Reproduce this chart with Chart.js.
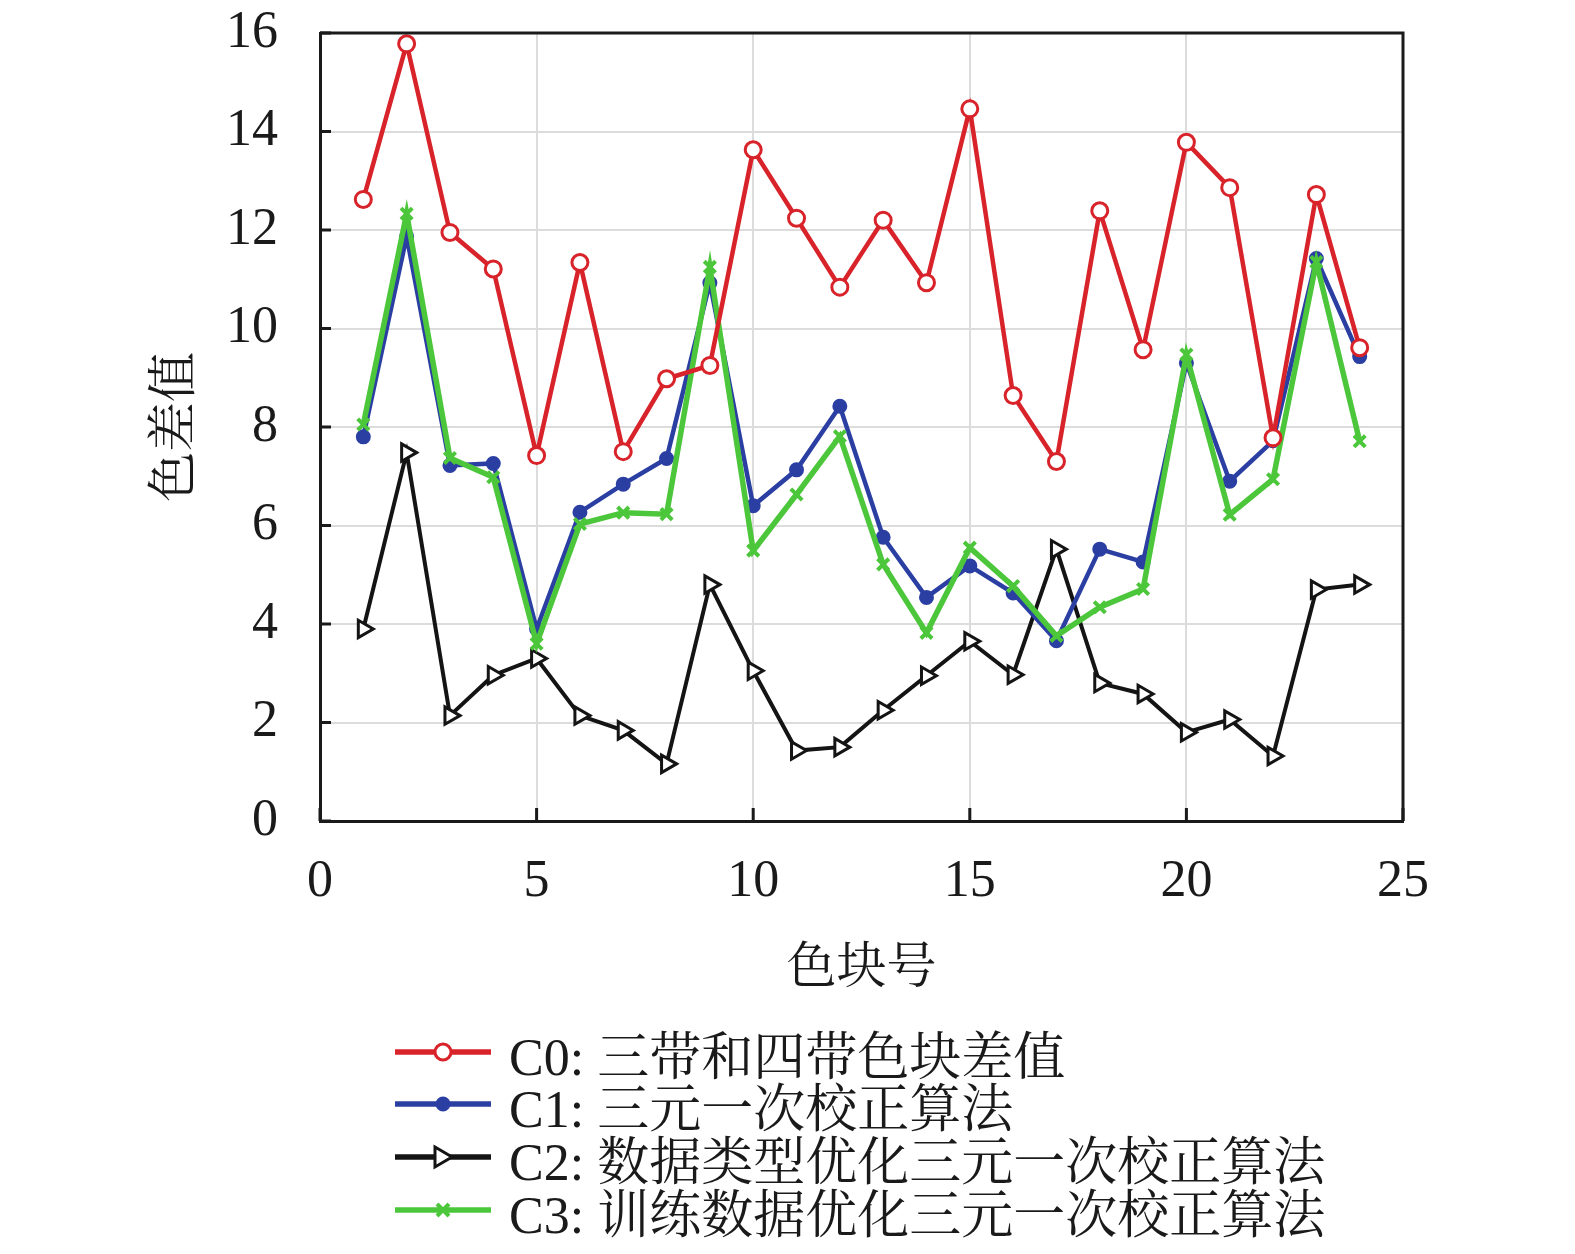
<!DOCTYPE html>
<html><head><meta charset="utf-8">
<script src="https://cdn.jsdelivr.net/npm/chart.js@4.4.1/dist/chart.umd.min.js"></script>
<style>
html,body{margin:0;padding:0;background:#fff;}
#wrap{position:relative;width:1575px;height:1254px;overflow:hidden;}
#c{position:absolute;left:0;top:0;}
.leg{position:absolute;left:395px;height:53px;display:flex;align-items:center;font-size:52px;font-family:"Liberation Serif","Noto Serif CJK SC","Noto Sans CJK SC",serif;color:#1a1a1a;white-space:nowrap;}
.leg svg{margin-right:18px;}
</style></head><body>
<div id="wrap"><canvas id="c" width="1575" height="1254" style="width:1575px;height:1254px"></canvas><div id="legend"></div></div>
<script>
// ---- data ----
const blockNo = [1,2,3,4,5,6,7,8,9,10,11,12,13,14,15,16,17,18,19,20,21,22,23,24];
const seriesNames = ["C0: 三带和四带色块差值","C1: 三元一次校正算法","C2: 数据类型优化三元一次校正算法","C3: 训练数据优化三元一次校正算法"];
const c0 = [12.62,15.78,11.95,11.21,7.42,11.34,7.50,8.98,9.25,13.63,12.24,10.84,12.20,10.93,14.46,8.64,7.30,12.39,9.57,13.78,12.86,7.78,12.72,9.61];
const c1 = [7.80,11.87,7.22,7.26,3.90,6.27,6.84,7.36,10.93,6.40,7.13,8.42,5.76,4.54,5.18,4.63,3.66,5.52,5.26,9.30,6.90,7.72,11.42,9.43];
const c2 = [3.90,7.48,2.14,2.96,3.30,2.14,1.84,1.16,4.80,3.05,1.43,1.50,2.25,2.95,3.65,2.97,5.52,2.80,2.58,1.80,2.06,1.32,4.70,4.80];
const c3 = [8.05,12.33,7.37,6.98,3.60,6.03,6.26,6.23,11.25,5.49,6.63,7.81,5.21,3.82,5.55,4.77,3.76,4.34,4.71,9.47,6.22,6.94,11.35,7.71];
const xTicks = [0,5,10,15,20,25];
const yTicks = [0,2,4,6,8,10,12,14,16];
const xTitle = "色块号";
const yTitle = "色差值";

const FONT = '"Liberation Serif","Noto Serif CJK SC","Noto Sans CJK SC",serif';
const pts = arr => arr.map((v,i)=>({x:blockNo[i], y:v}));

const styles = [
  {color:'#d8232a', lw:4.5, style:'circle', r:8, fill:'#ffffff', bw:3, rot:0, order:1},
  {color:'#2b3fa3', lw:4.5, style:'circle', r:6.5, fill:'#2b3fa3', bw:2, rot:0, order:3},
  {color:'#141414', lw:4, style:'triangle', r:10, fill:'#ffffff', bw:3, rot:90, order:4},
  {color:'#4cc63a', lw:5.5, style:'crossRot', r:8, fill:'#4cc63a', bw:4, rot:0, order:2}
];
const values = [c0,c1,c2,c3];

const datasets = values.map((v,i)=>({
  label: seriesNames[i],
  data: pts(v),
  borderColor: styles[i].color,
  backgroundColor: styles[i].color,
  borderWidth: styles[i].lw,
  pointStyle: styles[i].style,
  pointRadius: styles[i].r,
  pointBackgroundColor: styles[i].fill,
  pointBorderColor: styles[i].color,
  pointBorderWidth: styles[i].bw,
  pointRotation: styles[i].rot,
  tension: 0,
  order: styles[i].order
}));

const framePlugin = {
  id:'frame',
  afterDraw(chart){
    const {ctx, chartArea:a, scales:{x,y}} = chart;
    ctx.save();
    ctx.strokeStyle = '#1a1a1a';
    ctx.lineWidth = 3;
    ctx.beginPath();
    ctx.moveTo(a.left, a.top); ctx.lineTo(a.right, a.top); ctx.lineTo(a.right, a.bottom);
    ctx.stroke();
    ctx.beginPath();
    yTicks.forEach(t=>{ const py=y.getPixelForValue(t); ctx.moveTo(a.left, py); ctx.lineTo(a.left+11, py); });
    xTicks.forEach(t=>{ const px=x.getPixelForValue(t); ctx.moveTo(px, a.bottom); ctx.lineTo(px, a.bottom-13); });
    ctx.stroke();
    ctx.restore();
  }
};

new Chart(document.getElementById('c'), {
  type:'line',
  data:{datasets},
  options:{
    responsive:false,
    animation:false,
    devicePixelRatio:1,
    layout:{padding:{left:0, top:33, right:172, bottom:254}},
    plugins:{legend:{display:false}, tooltip:{enabled:false}},
    scales:{
      x:{
        type:'linear', min:0, max:25,
        afterFit(s){ s.height = 179; },
        afterBuildTicks(s){ s.ticks = xTicks.map(v=>({value:v})); },
        ticks:{color:'#1a1a1a', font:{family:FONT, size:52}, padding:0, maxRotation:0},
        grid:{color:'#dcdcdc', lineWidth:2, drawTicks:true, tickLength:30, tickColor:'rgba(0,0,0,0)'},
        border:{color:'#1a1a1a', width:3},
        title:{display:true, text:xTitle, color:'#1a1a1a', font:{family:FONT, size:50}, padding:{top:0,bottom:0}}
      },
      y:{
        type:'linear', min:0, max:16,
        afterFit(s){ s.width = 320; },
        afterBuildTicks(s){ s.ticks = yTicks.map(v=>({value:v})); },
        ticks:{color:'#1a1a1a', font:{family:FONT, size:52}, padding:0},
        grid:{color:'#dcdcdc', lineWidth:2, drawTicks:true, tickLength:42, tickColor:'rgba(0,0,0,0)'},
        border:{color:'#1a1a1a', width:3},
        title:{display:true, text:yTitle, color:'#1a1a1a', font:{family:FONT, size:50}, padding:{top:147,bottom:0}}
      }
    }
  },
  plugins:[framePlugin]
});

// ---- HTML legend built from datasets ----
const legTops = [1026, 1078, 1131, 1184];
function markerSvg(s){
  const c = s.color;
  let m = '';
  if (s.style==='circle') m = `<circle cx="48" cy="26" r="${s.r}" fill="${s.fill}" stroke="${c}" stroke-width="${s.bw}"/>`;
  else if (s.style==='triangle') m = `<polygon points="40,16 57,26 40,36" fill="${s.fill}" stroke="${c}" stroke-width="${s.bw}"/>`;
  else m = `<path d="M42,20 L54,32 M54,20 L42,32" stroke="${c}" stroke-width="${s.bw}"/>`;
  return `<svg width="96" height="53" viewBox="0 0 96 53"><line x1="0" y1="26" x2="96" y2="26" stroke="${c}" stroke-width="5.5"/>${m}</svg>`;
}
const legend = document.getElementById('legend');
seriesNames.forEach((n,i)=>{
  const d = document.createElement('div');
  d.className='leg';
  d.style.top = legTops[i]+'px';
  d.innerHTML = markerSvg(styles[i]) + '<span>'+n+'</span>';
  legend.appendChild(d);
});
</script>
</body></html>
